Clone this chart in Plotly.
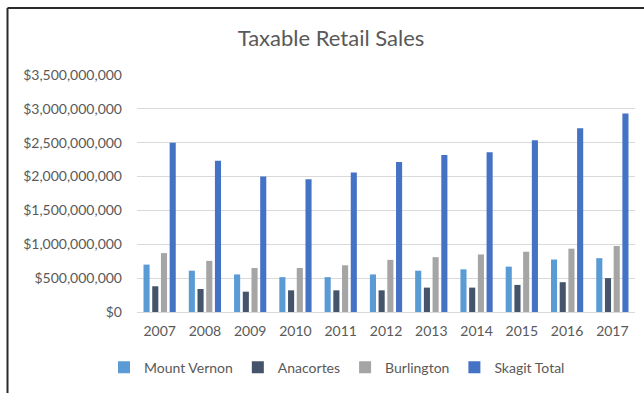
import plotly.graph_objects as go

# Taxable retail sales by year, in dollars
years = ["2007", "2008", "2009", "2010", "2011", "2012", "2013", "2014", "2015", "2016", "2017"]
mount_vernon = [700e6, 610e6, 555e6, 515e6, 515e6, 555e6, 610e6, 630e6, 670e6, 775e6, 795e6]
anacortes = [380e6, 340e6, 300e6, 320e6, 320e6, 320e6, 360e6, 360e6, 400e6, 440e6, 500e6]
burlington = [870e6, 755e6, 650e6, 650e6, 690e6, 770e6, 810e6, 850e6, 890e6, 935e6, 975e6]
skagit_total = [2500e6, 2235e6, 2000e6, 1960e6, 2060e6, 2215e6, 2320e6, 2360e6, 2535e6, 2715e6, 2930e6]

series = [
    ("Mount Vernon", mount_vernon, "#5B9BD5"),
    ("Anacortes", anacortes, "#44546A"),
    ("Burlington", burlington, "#A5A5A5"),
    ("Skagit Total", skagit_total, "#4472C4"),
]

W, H = 644, 393
ML, MR, MT, MB = 137, 9, 75, 79
PW, PH = W - ML - MR, H - MT - MB


def px_x(px):
    return (px - ML) / PW


def px_y(py):
    return (H - MB - py) / PH


FONT = "Lato"
TEXT = "#595959"

fig = go.Figure()
for name, vals, color in series:
    fig.add_trace(go.Bar(
        x=years, y=vals, name=name,
        marker=dict(color=color, line=dict(width=0)),
    ))

fig.update_layout(
    width=W, height=H,
    margin=dict(l=ML, r=MR, t=MT, b=MB, pad=0),
    paper_bgcolor="white", plot_bgcolor="white",
    barmode="group", bargap=0.23, bargroupgap=0.3,
    font=dict(family=FONT, color=TEXT, size=14),
    title=dict(
        text="Taxable Retail Sales",
        x=(331 / W), xanchor="center", xref="container",
        y=1 - 38 / H, yanchor="middle", yref="container",
        font=dict(family=FONT, size=22, color=TEXT),
    ),
    xaxis=dict(
        showgrid=False, showline=True, linecolor="#D9D9D9", linewidth=1,
        ticks="", tickfont=dict(size=14, color=TEXT), ticklabelstandoff=6,
    ),
    yaxis=dict(
        range=[0, 3.5e9], dtick=5e8, tickformat="$,.0f",
        showgrid=True, gridcolor="#D9D9D9", gridwidth=1,
        zeroline=False, showline=False, ticks="",
        tickfont=dict(size=14, color=TEXT), ticklabelstandoff=14,
    ),
    legend=dict(
        orientation="h", x=px_x(337), xanchor="center",
        y=px_y(370), yanchor="middle",
        font=dict(size=14, color=TEXT), itemwidth=30,
        traceorder="normal",
    ),
    showlegend=True,
)

# Chart frame along the top and left edges
fig.add_shape(type="line", xref="paper", yref="paper",
              x0=px_x(7.5), x1=px_x(7.5), y0=px_y(H + 5), y1=px_y(7.5),
              line=dict(color="#2b2b2b", width=2))
fig.add_shape(type="line", xref="paper", yref="paper",
              x0=px_x(7.5), x1=px_x(W + 5), y0=px_y(7.5), y1=px_y(7.5),
              line=dict(color="#2b2b2b", width=2))

fig.write_html("out.html")
